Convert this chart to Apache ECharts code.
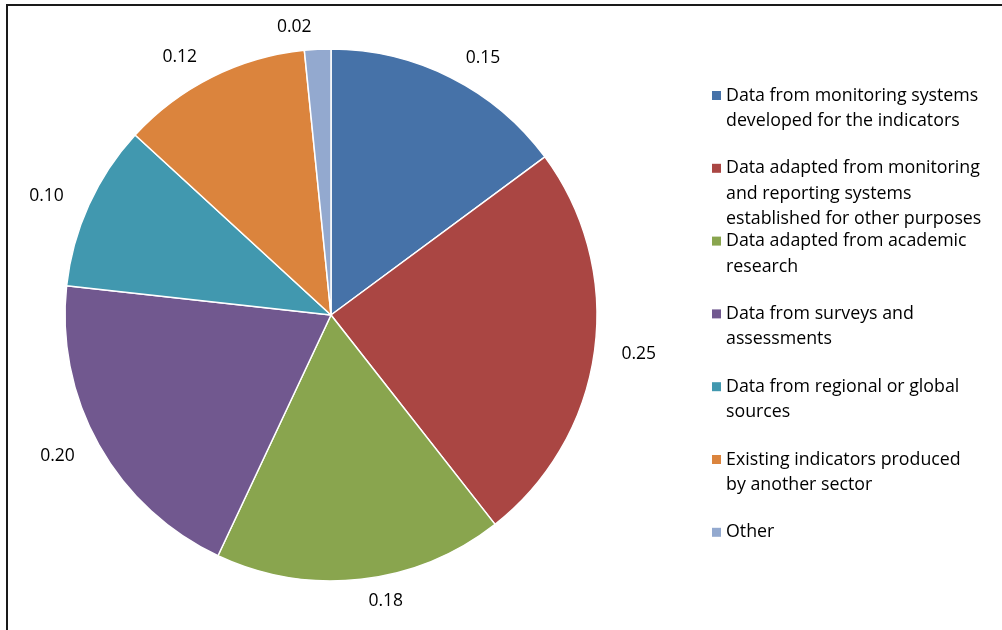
<!DOCTYPE html>
<html>
<head>
<meta charset="utf-8">
<script src="https://cdn.jsdelivr.net/npm/echarts@6/dist/echarts.min.js"></script>
<style>
html,body{margin:0;padding:0;background:#fff;}
#frame{position:absolute;left:6px;top:4px;width:1000px;height:630px;border-left:2px solid #1a1a1a;border-top:2px solid #1a1a1a;}
#chart{position:absolute;left:0;top:0;width:1002px;height:630px;}
</style>
</head>
<body>
<div id="frame"></div>
<div id="chart"></div>
<script>
const categories = [
  'Data from monitoring systems\ndeveloped for the indicators',
  'Data adapted from monitoring\nand reporting systems\nestablished for other purposes',
  'Data adapted from academic\nresearch',
  'Data from surveys and\nassessments',
  'Data from regional or global\nsources',
  'Existing indicators produced\nby another sector',
  'Other'
];
const values = [0.149, 0.246, 0.176, 0.198, 0.101, 0.116, 0.016];
const colors = ['#4672A8', '#AA4643', '#89A54E', '#71588F', '#4198AF', '#DB843D', '#93A9CF'];

const FONT = '"Open Sans", Lato, sans-serif';
const L = 25.5;
const legends = categories.map(function (name, i) {
  const n = name.split('\n').length;
  const iconCenter = 95.5 + i * 72.8;
  return {
    data: [name],
    orient: 'vertical',
    left: 712,
    top: iconCenter - (2 * n - 1) * L / 2,
    icon: 'rect',
    itemWidth: 9,
    itemHeight: 9,
    itemGap: 0,
    padding: 0,
    itemStyle: { borderWidth: 0 },
    selectedMode: false,
    formatter: function (nm) {
      const k = nm.split('\n').length;
      return '\n'.repeat(k - 1) + nm;
    },
    textStyle: {
      fontFamily: FONT,
      fontSize: 17.8,
      color: '#000',
      lineHeight: L
    }
  };
});

const chart = echarts.init(document.getElementById('chart'), null, { renderer: 'canvas' });
chart.setOption({
  animation: false,
  color: colors,
  legend: legends,
  series: [{
    type: 'pie',
    center: [331, 315],
    radius: [0, 266],
    startAngle: 90,
    clockwise: true,
    avoidLabelOverlap: false,
    itemStyle: { borderColor: '#fff', borderWidth: 1.5 },
    label: {
      show: true,
      position: 'outside',
      fontFamily: FONT,
      fontSize: 17.5,
      color: '#000',
      formatter: function (p) { return p.value.toFixed(2); }
    },
    labelLine: { show: false, length: 22, length2: 0 },
    emphasis: { disabled: true },
    data: categories.map(function (c, i) { return { name: c, value: values[i] }; })
  }]
});
</script>
</body>
</html>
